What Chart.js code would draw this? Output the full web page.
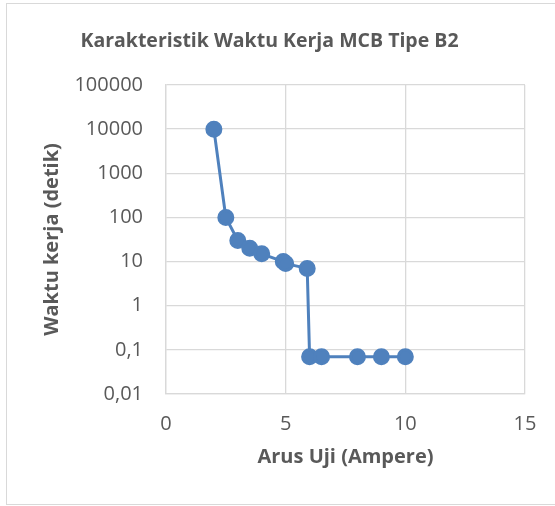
<!DOCTYPE html>
<html>
<head>
<meta charset="utf-8">
<script src="https://cdn.jsdelivr.net/npm/chart.js@4/dist/chart.umd.min.js"></script>
<style>
  html, body { margin: 0; padding: 0; background: #fff; overflow: hidden; }
  .frame { position: absolute; left: 6px; top: 3px; width: 570px; height: 500px; border: 1.5px solid #d9d9d9; }
  #chart { position: absolute; left: 0; top: 0; }
</style>
</head>
<body>
<div class="frame"></div>
<canvas id="chart" width="555" height="506"></canvas>
<script>
// arus uji (A) vs waktu kerja (s)
const arusUji = [2, 2.5, 3, 3.5, 4, 4.9, 5, 5.9, 6, 6.5, 8, 9, 10];
const waktuKerja = [10000, 100, 30, 20, 15, 10, 9, 7, 0.07, 0.07, 0.07, 0.07, 0.07];

const yTickValues = [0.01, 0.1, 1, 10, 100, 1000, 10000, 100000];
const yTickLabels = ["0,01", "0,1", "1", "10", "100", "1000", "10000", "100000"];
const xTickValues = [0, 5, 10, 15];
const xTickLabels = ["0", "5", "10", "15"];

const textColor = "#595959";
const gridColor = "#d9d9d9";
const blue = "#4f81bd";

const points = arusUji.map((x, i) => ({ x: x, y: waktuKerja[i] }));

const config = {
  type: "scatter",
  data: {
    datasets: [{
      data: points,
      showLine: true,
      borderColor: blue,
      backgroundColor: blue,
      borderWidth: 3,
      pointRadius: 7,
      pointHoverRadius: 7,
    }],
  },
  options: {
    responsive: false,
    animation: false,
    devicePixelRatio: 1,
    layout: { padding: { left: 14, right: 30, top: 0, bottom: 0 } },
    plugins: {
      legend: { display: false },
      tooltip: { enabled: false },
      title: {
        display: true,
        text: "Karakteristik Waktu Kerja MCB Tipe B2",
        color: textColor,
        font: { family: "Open Sans", size: 19.5, weight: "bold" },
        padding: { top: 29.3, bottom: 32.3 },
      },
    },
    scales: {
      x: {
        type: "linear",
        min: 0,
        max: 15,
        afterBuildTicks: (axis) => { axis.ticks = xTickValues.map((v) => ({ value: v })); },
        afterFit: (axis) => { axis.height = 112; },
        ticks: {
          color: textColor,
          font: { family: "Open Sans", size: 20 },
          padding: 18,
          callback: (v) => xTickLabels[xTickValues.indexOf(v)],
        },
        grid: { color: gridColor, lineWidth: 1.3, drawTicks: false },
        border: { color: gridColor, width: 1.3 },
        title: {
          display: true,
          text: "Arus Uji (Ampere)",
          color: textColor,
          font: { family: "Open Sans", size: 20, weight: "bold" },
          padding: { top: 0, bottom: 37 },
        },
      },
      y: {
        type: "logarithmic",
        min: 0.01,
        max: 100000,
        afterBuildTicks: (axis) => { axis.ticks = yTickValues.map((v) => ({ value: v })); },
        afterFit: (axis) => { axis.width = 152; },
        ticks: {
          color: textColor,
          font: { family: "Open Sans", size: 20 },
          padding: 23,
          callback: (v) => yTickLabels[yTickValues.indexOf(v)],
        },
        grid: { color: gridColor, lineWidth: 1.3, drawTicks: false },
        border: { color: gridColor, width: 1.3 },
        title: {
          display: true,
          text: "Waktu kerja (detik)",
          color: textColor,
          font: { family: "Open Sans", size: 20, weight: "bold" },
          padding: { top: 26, bottom: 0 },
        },
      },
    },
  },
};

new Chart(document.getElementById("chart"), config);
</script>
</body>
</html>
